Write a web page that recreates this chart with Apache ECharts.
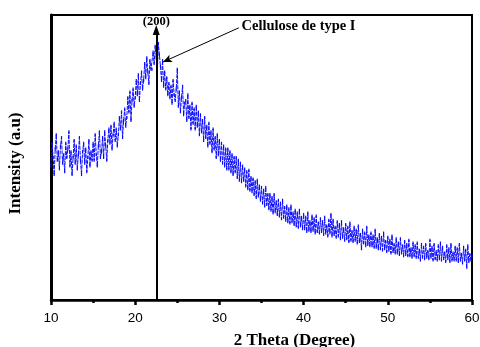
<!DOCTYPE html>
<html><head><meta charset="utf-8">
<script src="https://cdn.jsdelivr.net/npm/echarts@6/dist/echarts.min.js"></script>
<style>html,body{margin:0;padding:0;background:#fff}#c{width:480px;height:347px}</style>
</head><body><div id="c"></div>
<script>
var xStart = 10, xStep = 0.125;
var intensity = [
47,55,50,44,53,58,49,52, 46,54,57,48,51,45,55,50, 53,59,47,52,44,50,56,48, 54,46,51,57,49,44,52,55, 48,53,45,50,56,47,52,49,
55,49,58,51,47,54,59,50, 52,57,50,59,54,49,56,60, 55,61,53,58,62,56,60,54, 58,64,60,66,57,63,67,61, 64,71,66,73,63,70,74,68,
71,77,72,79,70,76,80,74, 77,83,78,85,80,76,84,81, 81,87,83,89,85,80,90,86, 82,77,84,75,80,74,78,72, 76,71,75,69,77,72,70,74,
81,68,73,66,71,75,65,69, 70,63,72,64,68,60,69,62, 67,60,68,61,66,58,65,59, 63,56,64,57,61,54,62,55, 59,52,60,53,57,50,58,51,
56,49,55,48,54,47,53,46, 53,46,52,45,51,44,50,45, 50,43,49,42,48,41.5,47,42, 46,40,45,39,45.5,38.5,43,38, 42.5,37,41.5,36,42,36.5,40,35,
39.5,34,38.5,33,39.5,33.5,37,32, 37,31.5,36,30.5,37,31,34.5,30, 35,29.5,34,28.5,35,29,32.5,28, 33,27.5,32,27,33,27.5,30.5,26.5, 31.5,26,30.5,25.5,31.5,26,29,25,
30,25,29,24,30.5,24.5,27.5,24, 29.5,24.5,28.5,23.5,29.5,24,27,23.5, 28.5,24,27.5,23,29,23.5,26,22.5, 28,23.5,30,22.5,28,23,25.5,22, 27.5,22.5,26.5,21.5,27.5,22,25,21,
26.5,21.5,25.5,20.5,27,21,24,20.5, 25.5,21,24.5,20,26,20.5,23,18, 24.5,20,23.5,19,25.5,19.5,22.5,19, 23.5,19,22.5,18.5,24.5,18.5,21.5,18, 23,18,22,17.5,23.5,18,20.5,17,
22,17.5,21,16.5,22.5,17,19.5,16.5, 21.5,16.5,20,16,21.5,16.5,19,15.5, 20.5,16,19.5,15.5,21,15.5,18,15, 20,15.5,19,15,20,15,17.5,14, 19.5,15,18.5,14.5,19.5,15,17,14.5,
21,15,18.5,14,19.5,14.5,17,14, 19,14.5,20,14,18.5,14.5,16.5,13.5, 19,14.5,18,13.5,19.5,14,16.5,14, 18.5,14,18,13.5,19.5,14,16,13, 18.5,14,17.5,11.5,19,13.5,16,14,
15.5
];
var xTicks = [10, 20, 30, 40, 50, 60];
var peakX = 22.5, peakLabel = '(200)';
var arrowFrom = [32.3, 95.5], arrowTo = [23.3, 83.5];
var annotation = 'Cellulose de type I';

var data = intensity.map(function (v, i) { return [xStart + i * xStep, v]; });
var chart = echarts.init(document.getElementById('c'));
var serif = '"Liberation Serif","Times New Roman",serif';
chart.setOption({
  animation: false,
  grid: { left: 51, right: 8, top: 15, bottom: 47, show: true, borderColor: '#000', borderWidth: 2, outerBoundsMode: 'none', containLabel: false },
  xAxis: {
    type: 'value', min: 10, max: 60, interval: 10,
    name: '2 Theta (Degree)', nameLocation: 'middle', nameGap: 32,
    nameTextStyle: { fontFamily: serif, fontWeight: 'bold', fontSize: 17, color: '#000', padding: [0, 0, 0, 66] },
    axisLine: { lineStyle: { color: '#000', width: 2.5 } },
    axisTick: { inside: false, length: 5, lineStyle: { width: 2.5, color: '#000' } },
    minorTick: { show: true, splitNumber: 2, length: 3, lineStyle: { width: 2.5, color: '#000' } },
    axisLabel: { color: '#000', fontFamily: '"Liberation Sans",Arial,sans-serif', fontSize: 13.5, margin: 11 },
    splitLine: { show: false }
  },
  yAxis: {
    type: 'value', min: 0, max: 100,
    name: 'Intensity (a.u)', nameLocation: 'middle', nameGap: 27,
    nameTextStyle: { fontFamily: serif, fontWeight: 'bold', fontSize: 17, color: '#000', padding: [0, 12, 0, 0] },
    axisLine: { show: true, lineStyle: { color: '#000', width: 3 } },
    axisTick: { show: false }, axisLabel: { show: false }, splitLine: { show: false }
  },
  series: [{
    type: 'line', data: data, showSymbol: true, symbol: 'rect', symbolSize: [1.2, 3],
    itemStyle: { color: '#0a0aff', borderWidth: 0 },
    lineStyle: { color: '#0a0aff', width: 1, type: [4, 1] },
    z: 2,
    markLine: {
      silent: true, animation: false, precision: 2,
      data: [
        [{ coord: [peakX, 0], symbol: 'none', lineStyle: { color: '#000', width: 2, type: 'solid' },
           label: { show: true, position: 'end', formatter: peakLabel, fontFamily: serif, fontWeight: 'bold', fontSize: 12.5, color: '#000', distance: 2 } },
         { coord: [peakX, 94.7], symbol: 'triangle', symbolSize: [7, 10] }],
        [{ coord: arrowFrom, symbol: 'none', lineStyle: { color: '#000', width: 1, type: 'solid' },
           label: { show: true, position: 'start', formatter: annotation, fontFamily: serif, fontWeight: 'bold', fontSize: 14.5, color: '#000', distance: 3 } },
         { coord: arrowTo, symbol: 'arrow', symbolSize: [6, 9] }]
      ]
    }
  }]
});
</script></body></html>
